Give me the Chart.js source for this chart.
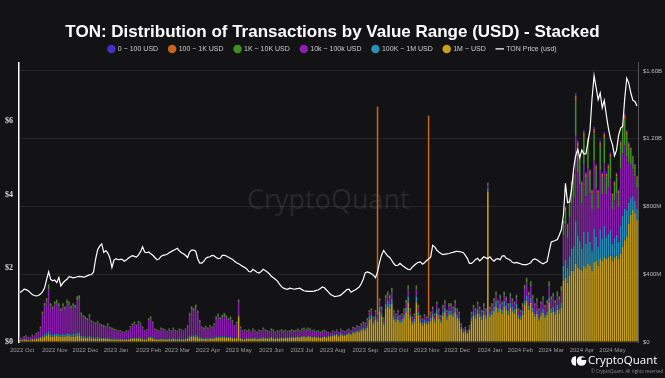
<!DOCTYPE html>
<html><head><meta charset="utf-8">
<script src="https://cdn.jsdelivr.net/npm/chart.js@4.4.1/dist/chart.umd.min.js"></script>
<style>
html,body{margin:0;padding:0;background:#131316;}
#wrap{position:relative;width:665px;height:378px;}
canvas{display:block;}
</style></head><body>
<div id="wrap"><canvas id="c" width="665" height="378"></canvas></div>
<script>
// ---- data (values in USD millions for transfer volume, USD for price) ----
const startDate = '2022-09-29';
const stepDays = 2;
const monthNames = ['Jan','Feb','Mar','Apr','May','Jun','Jul','Aug','Sep','Oct','Nov','Dec'];
const seriesNames = ['0 ~ 100 USD','100 ~ 1K USD','1K ~ 10K USD','10k ~ 100k USD','100K ~ 1M USD','1M ~ USD','TON Price (usd)'];
const rightTicks = [0, 400, 800, 1200, 1600];
const leftTicks = [0, 2, 4, 6];

const price = [
1.34,1.38,1.43,1.42,1.39,1.34,1.29,1.26,1.25,1.26,1.30,
1.36,1.46,1.69,1.90,1.70,1.66,1.68,1.61,1.75,1.52,
1.60,1.66,1.70,1.77,1.76,1.74,1.75,1.77,1.78,1.77,
1.76,1.77,1.80,1.82,1.83,1.90,2.25,2.50,2.60,2.66,
2.43,2.48,2.41,2.28,2.02,2.22,2.26,2.23,2.24,2.24,
2.19,2.22,2.27,2.31,2.34,2.32,2.30,2.36,2.45,2.58,
2.44,2.42,2.44,2.39,2.35,2.29,2.23,2.25,2.32,2.35,
2.36,2.38,2.42,2.45,2.48,2.51,2.54,2.47,2.42,2.39,
2.35,2.29,2.44,2.49,2.49,2.46,2.25,2.14,2.14,2.19,
2.27,2.30,2.31,2.35,2.34,2.29,2.26,2.27,2.35,2.35,
2.33,2.30,2.27,2.24,2.19,2.15,2.12,2.09,2.05,2.02,
1.98,1.91,1.90,1.97,1.93,1.89,1.87,1.91,1.97,1.94,
1.90,1.85,1.78,1.74,1.70,1.65,1.57,1.50,1.46,1.44,
1.43,1.46,1.45,1.43,1.44,1.45,1.46,1.42,1.39,1.38,
1.37,1.37,1.37,1.38,1.40,1.41,1.45,1.49,1.47,1.41,
1.35,1.29,1.26,1.23,1.24,1.25,1.27,1.32,1.37,1.42,
1.43,1.35,1.38,1.41,1.45,1.49,1.58,1.70,1.88,1.90,
1.88,1.85,1.81,1.74,1.90,2.16,2.36,2.48,2.40,2.33,
2.29,2.21,2.12,2.07,2.08,2.13,2.08,2.04,2.00,1.97,
1.96,2.03,2.08,2.13,2.16,2.17,2.11,2.15,2.21,2.25,
2.30,2.62,2.58,2.49,2.44,2.40,2.37,2.38,2.39,2.40,
2.42,2.43,2.45,2.46,2.45,2.44,2.42,2.35,2.26,2.13,
2.13,2.18,2.24,2.27,2.20,2.25,2.31,2.28,2.26,2.31,
2.24,2.19,2.25,2.26,2.23,2.33,2.34,2.27,2.25,2.22,
2.16,2.14,2.16,2.14,2.12,2.10,2.10,2.10,2.12,2.15,
2.23,2.25,2.23,2.19,2.15,2.12,2.15,2.18,2.45,2.71,
2.73,2.75,2.78,2.90,3.05,3.45,4.30,3.78,3.80,4.15,
4.70,5.05,5.22,5.00,5.20,5.10,5.10,5.42,5.75,6.60,
7.22,6.90,6.57,6.75,6.35,6.55,6.15,5.80,5.52,5.35,
5.05,5.20,5.60,5.80,5.85,6.60,7.15,7.02,6.75,6.55,6.52,6.40];

const vol1M = [
12,10,14,15,11,10,16,14,18,20,25,
28,32,36,45,32,30,34,36,33,30,
33,30,36,34,31,33,32,38,40,27,
25,24,22,26,21,20,19,21,19,18,
18,17,19,16,15,15,14,14,14,13,
12,14,13,17,19,20,18,21,20,16,
14,15,24,25,21,15,14,13,16,15,
15,13,16,14,17,14,13,16,15,14,
16,18,26,30,29,31,27,21,17,16,
18,16,18,17,20,24,26,24,26,27,
25,23,24,22,18,22,150,18,15,16,
18,19,17,20,18,16,19,18,22,20,
20,19,24,22,18,21,20,23,21,23,
23,25,27,24,26,28,25,29,31,27,
31,30,27,29,26,28,24,27,29,27,
33,30,39,36,41,33,44,39,36,41,
48,42,54,51,60,57,66,72,69,84,
133,140,105,133,120,182,147,102,196,210,
196,224,133,119,133,112,119,140,175,235,
140,105,119,235,154,112,98,115,105,110,
126,147,119,168,140,112,154,175,133,161,
161,147,175,140,126,77,56,63,49,70,
126,154,140,168,147,133,161,140,886,147,
161,182,210,175,196,168,210,189,161,203,
182,168,196,140,133,161,218,243,192,230,
179,147,166,128,154,173,141,160,230,173,
180,160,190,170,200,360,380,350,390,420,
420,460,440,430,420,450,440,460,450,420,
470,480,450,490,480,500,490,500,510,480,
500,510,490,520,560,600,620,700,750,780,760,720];

const vol100K = [
2,1,2,3,2,2,3,3,4,4,6,
10,13,15,19,13,12,14,14,13,12,
13,13,15,14,13,14,13,16,16,10,
10,10,8,10,8,8,7,8,7,7,
6,6,7,6,5,5,4,4,4,4,
4,4,4,5,6,6,6,6,6,5,
4,5,7,7,6,5,5,5,5,5,
5,5,6,5,6,5,5,6,5,5,
6,6,9,10,9,10,9,7,6,5,
6,6,6,6,6,7,8,7,7,7,
7,6,6,6,5,5,8,5,4,4,
5,5,5,6,5,5,5,5,6,5,
5,5,5,5,4,5,5,5,5,5,
4,5,5,5,5,5,5,5,5,5,
5,5,4,5,4,4,3,4,5,4,
5,5,6,6,7,5,8,6,6,7,
8,7,9,9,10,10,12,13,12,15,
19,20,15,19,15,26,21,14,28,30,
28,32,19,17,19,16,17,20,25,34,
20,15,17,34,22,16,14,17,15,14,
18,21,17,24,20,16,22,25,19,23,
23,21,25,20,18,11,8,9,7,10,
18,22,20,24,21,19,23,20,18,21,
23,26,30,25,28,24,30,27,23,29,
26,24,28,20,19,23,27,30,24,29,
22,18,21,16,19,22,18,20,29,22,
28,22,28,25,32,90,105,88,115,132,
145,252,188,168,132,200,140,188,142,120,
200,142,112,175,130,185,128,138,152,100,
112,122,102,168,185,188,158,120,100,80,72,65];

const vol10K = [
12,10,14,17,13,12,20,16,26,28,48,
126,165,186,248,165,150,172,178,165,140,
163,148,178,171,152,163,155,193,195,122,
110,102,96,113,88,81,77,84,73,69,
65,62,72,58,55,51,48,44,46,40,
38,45,44,63,74,82,70,85,78,60,
45,48,97,105,82,52,49,45,56,52,
47,40,50,44,53,45,43,50,47,44,
50,66,120,152,144,160,133,90,58,55,
61,54,66,58,73,105,116,100,112,120,
109,98,106,90,68,82,78,57,43,46,
38,42,35,45,38,31,39,37,47,41,
36,33,41,38,30,35,32,37,33,35,
29,31,33,30,32,35,31,36,38,33,
38,35,30,32,27,29,25,28,29,26,
15,14,17,16,19,15,20,17,16,19,
16,14,18,17,20,19,22,24,23,28,
23,24,18,23,20,31,25,17,34,36,
34,38,23,20,23,19,20,24,30,40,
24,18,20,40,26,19,17,20,18,17,
22,25,20,29,24,19,26,30,23,28,
28,25,30,24,22,13,10,11,8,12,
22,26,24,29,25,23,28,24,22,25,
28,31,36,30,34,29,36,32,28,35,
31,29,34,24,23,28,68,76,60,72,
56,46,52,40,48,54,44,50,72,54,
54,45,54,50,66,180,210,174,230,265,
290,505,375,335,265,400,280,375,285,240,
400,285,225,350,260,370,255,275,306,200,
225,246,205,335,370,375,315,240,200,160,145,130];

const vol1K = [
3,3,4,4,3,3,5,4,6,6,9,
13,16,18,24,16,15,17,18,16,15,
17,15,18,17,16,17,16,19,20,13,
12,11,11,13,10,9,9,10,9,9,
9,8,10,8,8,7,7,6,6,6,
5,6,6,8,9,10,9,11,9,8,
6,6,11,12,10,7,6,6,7,7,
7,6,7,6,8,7,6,7,7,6,
7,9,14,16,16,17,15,11,8,8,
9,8,9,8,10,13,14,13,14,15,
13,12,13,11,8,10,12,9,7,8,
8,8,7,8,8,7,8,7,9,8,
8,7,9,9,7,8,7,9,8,8,
8,8,9,8,8,9,8,9,10,9,
10,9,8,8,7,8,7,8,8,7,
5,4,6,5,6,5,6,6,5,6,
6,5,7,6,8,7,8,9,9,11,
12,12,9,12,10,16,13,9,17,18,
17,19,11,10,11,10,10,12,15,20,
12,9,10,20,13,10,8,10,9,9,
11,13,10,14,12,10,13,15,11,14,
14,13,15,12,11,7,5,5,4,6,
11,13,12,14,13,11,14,12,11,13,
14,16,18,15,17,14,18,16,14,17,
16,14,17,12,11,14,20,23,18,22,
17,14,16,12,14,16,13,15,22,16,
22,18,22,20,26,72,84,70,92,106,
116,202,150,134,106,160,112,150,114,96,
160,114,90,140,104,148,102,110,122,80,
90,98,82,134,148,150,126,96,80,64,58,52];

const vol100 = [
1,1,1,1,1,1,1,1,1,1,2,
2,3,3,3,2,2,2,3,2,2,
2,2,2,3,2,2,3,3,3,2,
2,2,2,2,2,1,2,1,1,1,
1,1,1,1,1,1,1,1,1,1,
1,1,1,1,1,1,1,1,1,1,
1,1,2,2,1,1,1,1,1,1,
1,1,1,1,1,1,1,1,1,1,
1,1,2,2,2,2,1,1,1,1,
1,1,1,1,1,2,2,1,1,2,
2,1,1,1,1,1,2,1,1,1,
1,1,1,1,1,1,1,1,1,1,
1,1,1,1,1,1,1,1,1,1,
1,1,1,1,1,1,1,1,1,1,
1,1,1,1,1,1,1,1,1,1,
1,1,1,1,1,1,1,1,1,1,
1,1,1,1,1,1,1,2,1,2,
2,2,2,2,1224,3,2,2,3,4,
3,4,2,2,2,2,2,2,3,4,
2,2,2,4,3,2,2,2,2,1185,
2,2,2,3,2,2,3,3,2,2,
2,2,3,2,2,1,1,1,1,1,
2,3,2,3,2,2,2,2,2,2,
2,3,3,3,3,3,3,3,2,4,
3,3,3,2,2,2,4,4,3,4,
3,3,3,2,3,3,2,3,4,3,
4,3,4,3,4,12,14,12,15,18,
19,34,25,22,18,27,19,25,19,16,
27,19,15,23,17,25,17,18,20,13,
15,16,14,22,25,25,21,16,13,11,10,9];

const vol0 = [
1,1,1,1,1,1,1,1,1,1,1,
1,2,2,2,1,1,1,2,1,1,
1,1,2,1,1,1,1,2,2,1,
1,1,1,1,1,1,1,1,1,1,
1,1,1,1,1,1,1,1,1,1,
1,1,1,1,1,1,1,1,1,1,
1,1,1,1,1,1,1,1,1,1,
1,1,1,1,1,1,1,1,1,1,
1,1,1,2,2,2,1,1,1,1,
1,1,1,1,1,1,2,1,1,1,
1,1,1,1,1,1,2,1,1,1,
1,1,1,1,1,1,1,1,1,1,
1,1,1,1,1,1,1,1,1,1,
1,1,1,1,1,1,1,1,1,1,
1,1,1,1,1,1,1,1,1,1,
1,1,1,1,1,1,1,1,1,1,
1,1,1,1,1,1,1,1,1,1,
1,2,1,1,1,2,2,1,2,2,
2,3,2,2,2,1,2,2,2,2,
2,1,2,2,2,1,1,1,1,2,
1,2,2,2,2,1,2,2,2,2,
2,2,2,2,1,1,0,1,1,1,
1,2,2,2,2,2,2,2,2,2,
2,2,3,2,2,2,3,3,2,2,
2,2,2,2,2,2,3,4,3,3,
3,2,2,2,2,2,2,2,3,2,
2,2,2,2,2,6,7,6,8,9,
10,17,12,11,9,13,9,12,10,8,
13,10,8,12,9,12,8,9,10,7,
8,8,7,11,12,12,10,8,7,5,5,4];

// ---- categories (one bar every stepDays days) ----
const dates = [];
{
  const d0 = new Date(startDate + 'T00:00:00Z');
  for (let i = 0; i < price.length; i++) {
    const d = new Date(d0.getTime() + i * stepDays * 86400000);
    dates.push(d.toISOString().slice(0, 10));
  }
}

const colors = {
  c0: '#4330c8', c100: '#c8641e', c1K: '#3f8f25', c10K: '#8a1fae', c100K: '#2a8fb8', c1M: '#c9a21c'
};

const bgPlugin = {
  id: 'bg',
  beforeDraw(chart) {
    const { ctx, width, height } = chart;
    ctx.save();
    ctx.fillStyle = '#131316';
    ctx.fillRect(0, 0, width, height);
    ctx.restore();
  },
  beforeDatasetsDraw(chart) {
    const { ctx } = chart;
    ctx.save();
    ctx.fillStyle = 'rgba(255,255,255,0.09)';
    ctx.font = '500 27px "Open Sans", sans-serif';
    ctx.textBaseline = 'middle';
    ctx.textAlign = 'left';
    ctx.fillText('CryptoQuant', 247, 201);
    ctx.restore();
  },
  afterDraw(chart) {
    const { ctx } = chart;
    ctx.save();
    ctx.fillStyle = '#ffffff';
    ctx.beginPath();
    ctx.arc(576, 361, 4.8, Math.PI * 0.5, Math.PI * 1.5, false);
    ctx.closePath();
    ctx.fill();
    ctx.beginPath();
    ctx.arc(581.5, 361, 4.8, 0, Math.PI * 2);
    ctx.fill();
    ctx.fillStyle = '#131316';
    ctx.fillRect(581.5, 357.5, 5, 2.5);
    ctx.fillStyle = '#ffffff';
    ctx.font = '11.5px "Open Sans", sans-serif';
    ctx.textBaseline = 'middle';
    ctx.textAlign = 'left';
    ctx.fillText('CryptoQuant', 588, 361);
    ctx.fillStyle = '#8a8a8a';
    ctx.font = '4.5px "Open Sans", sans-serif';
    ctx.fillText('© CryptoQuant. All rights reserved', 591, 372);
    ctx.restore();
  }
};

const barDs = (label, data, color) => ({
  type: 'bar', label, data, yAxisID: 'yR',
  backgroundColor: color, borderWidth: 0,
  barPercentage: 1.0, categoryPercentage: 0.75,
  pointStyle: 'circle'
});

new Chart(document.getElementById('c'), {
  data: {
    labels: dates,
    datasets: [
      { type: 'line', label: seriesNames[6], data: price, yAxisID: 'yL',
        borderColor: '#ffffff', backgroundColor: '#ffffff', borderWidth: 1.2,
        pointRadius: 0, tension: 0, pointStyle: 'line' },
      barDs(seriesNames[5], vol1M, colors.c1M),
      barDs(seriesNames[4], vol100K, colors.c100K),
      barDs(seriesNames[3], vol10K, colors.c10K),
      barDs(seriesNames[2], vol1K, colors.c1K),
      barDs(seriesNames[1], vol100, colors.c100),
      barDs(seriesNames[0], vol0, colors.c0)
    ]
  },
  options: {
    responsive: false,
    devicePixelRatio: 1,
    animation: false,
    layout: { padding: { top: 0, bottom: 20, left: 0, right: 0 } },
    plugins: {
      title: {
        display: true,
        text: 'TON: Distribution of Transactions by Value Range (USD) - Stacked',
        color: '#ffffff',
        font: { family: '"Liberation Sans", Arial, sans-serif', size: 17, weight: 'bold' },
        padding: { top: 22, bottom: -8 }
      },
      legend: {
        display: true,
        reverse: true,
        labels: {
          usePointStyle: true, boxWidth: 6, boxHeight: 6,
          color: '#cccccc', padding: 11,
          font: { family: '"Liberation Sans", Arial, sans-serif', size: 7 }
        }
      },
      tooltip: { enabled: false }
    },
    scales: {
      x: {
        stacked: true,
        grid: { display: false, drawTicks: false },
        border: { display: false },
        ticks: {
          autoSkip: false, maxRotation: 0, minRotation: 0, padding: 5,
          color: '#9a9a9a',
          font: { family: '"Liberation Sans", Arial, sans-serif', size: 6 },
          callback: function (val, idx) {
            const s = dates[idx];
            const day = parseInt(s.slice(8, 10), 10);
            if (day <= 2) return s.slice(0, 4) + ' ' + monthNames[parseInt(s.slice(5, 7), 10) - 1];
            return null;
          }
        },
        afterFit(scale) { scale.height = 16; }
      },
      yL: {
        type: 'linear', position: 'left', min: 0, max: 7.58,
        grid: { display: false, drawTicks: false, tickLength: 0 },
        border: { display: true, color: '#ffffff', width: 1.5 },
        afterBuildTicks(scale) { scale.ticks = leftTicks.map(v => ({ value: v })); },
        ticks: {
          color: '#dddddd', padding: 6,
          font: { family: '"Liberation Serif", serif', size: 8, weight: 'bold' },
          callback: v => '$' + v
        },
        afterFit(scale) { scale.width = 19; }
      },
      yR: {
        type: 'linear', position: 'right', stacked: true, min: 0, max: 1650,
        grid: { color: '#262628', lineWidth: 1, drawTicks: false, tickLength: 0 },
        border: { display: true, color: '#555555', width: 1 },
        afterBuildTicks(scale) { scale.ticks = rightTicks.map(v => ({ value: v })); },
        ticks: {
          color: '#bbbbbb', padding: 5,
          font: { family: '"Liberation Sans", Arial, sans-serif', size: 6 },
          callback: v => v === 0 ? '$0' : (v < 1000 ? '$' + v + 'M' : '$' + (v / 1000).toFixed(2) + 'B')
        },
        afterFit(scale) { scale.width = 27; }
      }
    }
  },
  plugins: [bgPlugin]
});
</script>
</body></html>
